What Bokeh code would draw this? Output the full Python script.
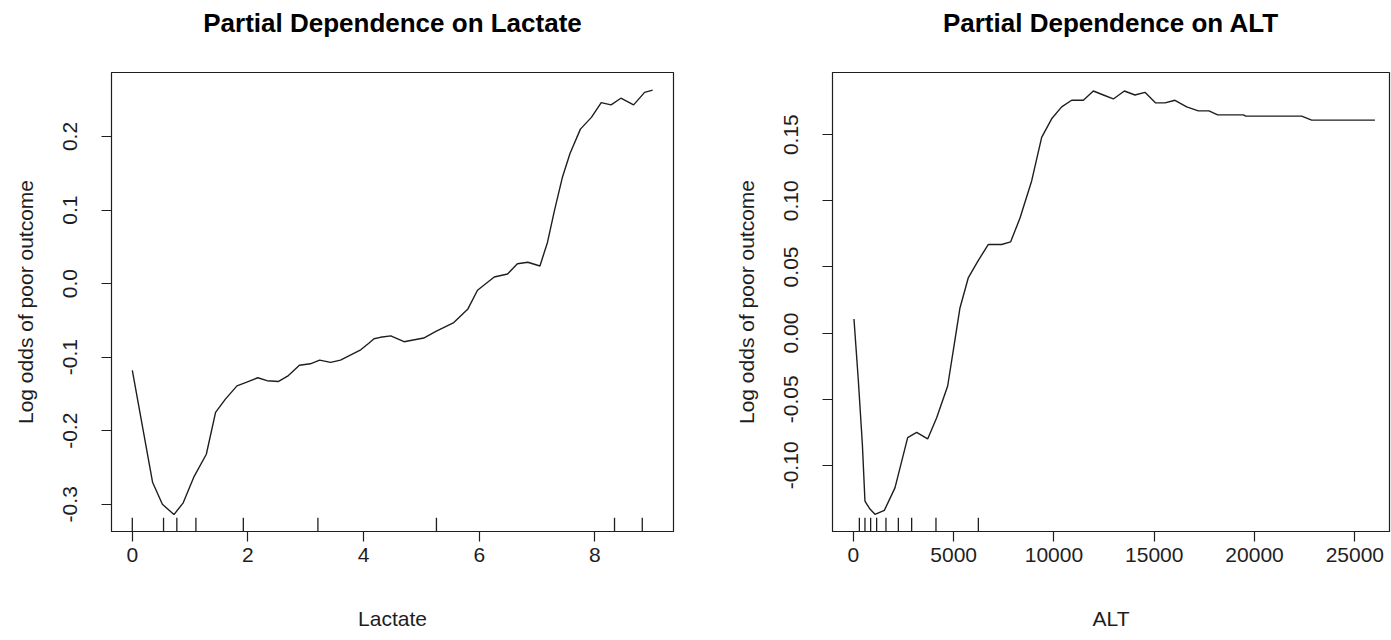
from bokeh.plotting import figure
from bokeh.layouts import row, column
from bokeh.models import FixedTicker, NumeralTickFormatter, ColumnDataSource
from bokeh.core.properties import value
from bokeh.embed import file_html
from bokeh.resources import INLINE

# ---------------- data ----------------
lactate_x = [0, 0.35, 0.52, 0.72, 0.88, 1.07, 1.28, 1.44, 1.61, 1.81, 1.98, 2.17, 2.33, 2.53,
             2.70, 2.89, 3.08, 3.24, 3.43, 3.60, 3.95, 4.09, 4.18, 4.29, 4.47, 4.70, 5.04, 5.25,
             5.56, 5.80, 5.97, 6.26, 6.49, 6.66, 6.84, 7.05, 7.18, 7.30, 7.44, 7.57, 7.75, 7.94,
             8.11, 8.28, 8.45, 8.67, 8.86, 9.0]
lactate_y = [-0.118, -0.270, -0.300, -0.314, -0.298, -0.262, -0.232, -0.175, -0.157, -0.139,
             -0.134, -0.128, -0.132, -0.133, -0.125, -0.111, -0.109, -0.104, -0.107, -0.104,
             -0.090, -0.081, -0.075, -0.073, -0.071, -0.079, -0.074, -0.065, -0.053, -0.035,
             -0.009, 0.009, 0.013, 0.027, 0.029, 0.024, 0.056, 0.099, 0.145, 0.177, 0.210,
             0.226, 0.246, 0.243, 0.252, 0.243, 0.260, 0.263]
lactate_rug = [0, 0.54, 0.77, 1.10, 1.92, 3.21, 5.26, 8.34, 8.82]
lactate_xticks = [0, 2, 4, 6, 8]
lactate_yticks = [-0.3, -0.2, -0.1, 0.0, 0.1, 0.2]

alt_x = [30, 249, 449, 578, 828, 1077, 1545, 2074, 2408, 2707, 3156, 3704, 4153, 4701, 5035,
         5314, 5733, 6231, 6730, 7393, 7842, 8307, 8888, 9387, 9885, 10384, 10882, 11466,
         11964, 12463, 12961, 13509, 14038, 14537, 15070, 15534, 16032, 16616, 17198, 17727,
         18161, 19442, 19557, 22348, 22847, 26000]
alt_y = [0.0106, -0.036, -0.084, -0.127, -0.133, -0.137, -0.134, -0.117, -0.097, -0.079,
         -0.075, -0.080, -0.064, -0.040, -0.008, 0.019, 0.042, 0.055, 0.067, 0.067, 0.069,
         0.087, 0.115, 0.148, 0.162, 0.171, 0.176, 0.176, 0.183, 0.180, 0.177, 0.183, 0.180,
         0.182, 0.174, 0.174, 0.176, 0.171, 0.168, 0.168, 0.165, 0.165, 0.164, 0.164, 0.161,
         0.161]
alt_rug = [299, 578, 862, 1161, 1625, 2243, 2906, 4118, 6231]
alt_xticks = [0, 5000, 10000, 15000, 20000, 25000]
alt_yticks = [-0.10, -0.05, 0.00, 0.05, 0.10, 0.15]

FONT = "Liberation Sans"
INK = "#1e1e1e"
TITLE_H = 44


def make_panel(title, xlabel, xs, ys, rug, xticks, yticks, xr, yr, yfmt,
               width, bl, br):
    p = figure(width=width, height=640 - TITLE_H, x_range=xr, y_range=yr,
               output_backend="svg", toolbar_location=None,
               min_border_left=bl, min_border_right=br,
               min_border_top=72 - TITLE_H, min_border_bottom=109,
               background_fill_color="white", border_fill_color="white")
    p.title.visible = False

    # separate strip holding the main title
    t = figure(width=width, height=TITLE_H, x_range=p.x_range, y_range=(0, 1),
               output_backend="svg", toolbar_location=None,
               min_border_left=bl, min_border_right=br, min_border_top=0,
               min_border_bottom=0, background_fill_color="white",
               border_fill_color="white")
    t.title.visible = False
    t.axis.visible = False
    t.grid.visible = False
    t.outline_line_color = None
    t.text(x=[(xr[0] + xr[1]) / 2], y=[0.5], text=[title], text_align="center",
           text_baseline="middle", text_font=value(FONT), text_font_size="26px",
           text_font_style="bold", text_color="black")

    p.grid.visible = False
    p.outline_line_color = INK
    p.outline_line_width = 1.2
    p.outline_line_alpha = 1

    for ax in (p.xaxis[0], p.yaxis[0]):
        ax.axis_line_color = INK
        ax.major_tick_line_color = INK
        ax.major_tick_line_width = 1.2
        ax.major_tick_out = 10
        ax.major_tick_in = 0
        ax.minor_tick_line_color = None
        ax.major_label_text_font = FONT
        ax.major_label_text_font_size = "21px"
        ax.major_label_text_color = INK
        ax.axis_label_text_font = FONT
        ax.axis_label_text_font_size = "21px"
        ax.axis_label_text_font_style = "normal"
        ax.axis_label_text_color = INK

    p.xaxis.ticker = FixedTicker(ticks=xticks)
    p.yaxis.ticker = FixedTicker(ticks=yticks)
    p.xaxis.formatter = NumeralTickFormatter(format="0")
    p.yaxis.formatter = NumeralTickFormatter(format=yfmt)
    p.yaxis.major_label_orientation = "vertical"
    p.xaxis.axis_label = xlabel
    p.yaxis.axis_label = "Log odds of poor outcome"
    p.xaxis.major_label_standoff = 6
    p.xaxis.axis_label_standoff = 42
    p.yaxis.major_label_standoff = 24
    p.yaxis.axis_label_standoff = 24

    p.line(xs, ys, line_color=INK, line_width=1.4)

    y0 = yr[0]
    h = (yr[1] - yr[0]) * 0.03
    rug_src = ColumnDataSource(dict(x=rug, y0=[y0] * len(rug), y1=[y0 + h] * len(rug)))
    p.segment(x0="x", y0="y0", x1="x", y1="y1", source=rug_src,
              line_color=INK, line_width=1.3)
    return column(t, p, spacing=0)


c1 = make_panel("Partial Dependence on Lactate", "Lactate", lactate_x, lactate_y,
                lactate_rug, lactate_xticks, lactate_yticks,
                (-0.36, 9.36), (-0.337, 0.287), "0.0", 696, 111, 23)
c2 = make_panel("Partial Dependence on ALT", "ALT", alt_x, alt_y,
                alt_rug, alt_xticks, alt_yticks,
                (-1040, 26727), (-0.150, 0.197), "0.00", 695, 136, 2)

layout = row(c1, c2, spacing=0)
open("out.html", "w").write(file_html(layout, INLINE))
